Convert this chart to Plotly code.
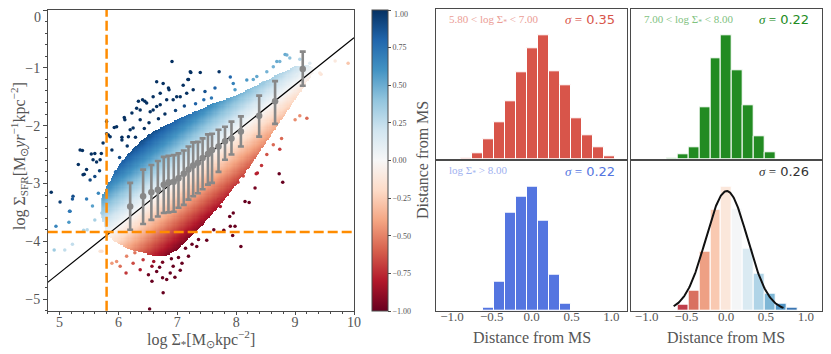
import numpy as np
import plotly.graph_objects as go

W, H = 831, 354          # browser window
OFF = 8                  # default page margin around the plot div
FW, FH = W - OFF, H - OFF
SERIF = "Liberation Serif"
SANS = "DejaVu Sans"
GREY = "#555555"
FRAME = "#4a4a4a"


def px_x(px):
    return (px - OFF) / FW


def px_y(py):
    return 1 - (py - OFF) / FH


# matplotlib RdBu, -1 (red) ... +1 (blue)
RDBU = ["#67001f", "#b2182b", "#d6604d", "#f4a582", "#fddbc7", "#f7f7f7",
        "#d1e5f0", "#92c5de", "#4393c3", "#2166ac", "#053061"]
RDBU_SCALE = [[i / 10, c] for i, c in enumerate(RDBU)]

# ---------------- left panel data ----------------
ms_x = [4.8, 10.0]          # main-sequence fit, end points
ms_y = [-4.71, -0.48]
mstar_cut = 5.80
sfr_cut = -3.84

# running median with 16/84 percentile bars
med_x = [6.20, 6.42, 6.56, 6.67, 6.77, 6.85, 6.94, 7.02, 7.11, 7.19, 7.27,
         7.35, 7.43, 7.52, 7.59, 7.70, 7.81, 7.92, 8.08, 8.39, 8.66, 9.13]
med_y = [-3.40, -3.22, -3.15, -3.11, -3.02, -2.98, -2.97, -2.91, -2.83, -2.76, -2.69,
         -2.64, -2.56, -2.49, -2.42, -2.36, -2.27, -2.22, -2.10, -1.83, -1.58, -1.02]
med_hi = [-2.99, -2.76, -2.68, -2.61, -2.54, -2.52, -2.51, -2.48, -2.43, -2.36, -2.29,
          -2.28, -2.22, -2.15, -2.14, -2.07, -2.02, -1.93, -1.84, -1.48, -1.23, -0.72]
med_lo = [-3.80, -3.70, -3.63, -3.57, -3.51, -3.50, -3.49, -3.42, -3.37, -3.28, -3.22,
          -3.17, -3.10, -3.02, -2.99, -2.80, -2.59, -2.50, -2.36, -2.19, -1.97, -1.31]

# envelope of the densely populated part of the cloud
core_x = [5.72, 5.80, 6.00, 6.20, 6.40, 6.60, 6.80, 7.00, 7.20, 7.40, 7.60,
          7.80, 8.00, 8.20, 8.40, 8.60, 8.80, 9.00, 9.20, 9.30]
core_top = [-3.25, -3.05, -2.70, -2.45, -2.25, -2.10, -2.00, -1.90, -1.80, -1.72, -1.62,
            -1.55, -1.48, -1.38, -1.28, -1.17, -1.07, -0.98, -0.95, -1.00]
core_bot = [-3.60, -3.90, -4.05, -4.15, -4.20, -4.25, -4.25, -4.15, -3.95, -3.75, -3.52,
            -3.28, -3.02, -2.75, -2.45, -2.15, -1.85, -1.55, -1.25, -1.10]

# sparse spaxels outside the dense cloud
pts_x = [4.86, 5.01, 4.94, 4.91, 5.17, 5.16, 5.22, 5.32, 5.39, 5.42, 5.46, 5.47, 5.22,
         5.52, 5.54, 5.60, 5.63, 5.68, 5.71, 5.56, 5.66, 5.72, 5.60, 5.69, 5.41, 5.80,
         6.91, 6.41, 6.65, 6.76, 6.85, 7.22, 7.39, 7.71, 7.90, 7.18, 6.10, 5.93, 5.83,
         7.23, 7.10, 7.19, 6.86, 6.71, 6.59, 6.45, 6.31, 6.25, 6.17, 6.06, 6.54, 6.65,
         6.93, 7.05, 7.27, 6.37, 7.47, 7.64, 7.95, 8.18, 8.35, 8.52, 8.69, 8.83, 8.91,
         9.08, 9.25, 9.68, 9.90, 9.44, 9.03, 7.98, 8.29, 8.46, 8.63, 8.74, 8.86, 9.42,
         9.20, 9.08, 9.00, 8.77, 8.74, 8.63, 8.43, 8.34, 8.73, 8.79, 8.12, 8.52, 8.26,
         8.32, 8.36, 8.15, 8.22, 8.08, 7.94, 7.98, 7.90, 7.89, 7.79, 7.62, 7.73, 7.70,
         7.95, 8.03, 7.50, 7.36, 7.27, 7.33, 6.53, 6.57, 6.76, 6.75, 6.96, 6.13, 5.97,
         6.42, 6.57, 6.28, 7.05, 6.88, 6.70, 5.09, 5.72,
         6.34, 6.48, 6.23, 6.37, 6.11, 5.97, 5.86, 5.74, 5.60, 5.57, 5.46, 5.40, 5.23,
         5.18, 5.35, 5.80, 5.69, 5.89, 6.06, 6.20, 6.59, 6.71, 6.82, 6.99, 7.16,
         6.25, 6.37, 6.51, 6.65, 6.82, 6.93, 7.08, 7.19, 6.14, 6.03, 5.89,
         6.02, 6.15, 6.29, 6.44, 6.52, 6.68, 6.79, 6.97, 7.12, 7.31, 7.45, 7.58, 5.95, 6.08,
         6.60, 6.75, 6.90, 7.02, 7.14, 7.25]
pts_y = [-3.15, -3.32, -3.74, -4.15, -3.48, -3.67, -3.27, -2.67, -2.43, -2.84, -3.27, -3.80, -4.05,
         -2.94, -2.49, -2.88, -2.63, -2.78, -2.48, -3.39, -3.17, -3.51, -3.63, -4.17, -3.81, -2.14,
         -0.89, -1.55, -1.24, -1.27, -1.35, -1.07, -1.08, -1.07, -1.16, -1.20, -1.86, -2.03, -2.16,
         -1.08, -1.30, -1.20, -1.38, -1.44, -1.50, -1.58, -1.70, -2.04, -2.19, -2.20, -1.76, -1.67,
         -1.55, -1.50, -1.38, -1.90, -1.41, -1.35, -1.27, -1.21, -1.15, -1.07, -0.89, -0.77, -0.83,
         -0.85, -0.92, -0.88, -0.92, -1.11, -1.12, -1.38, -1.20, -1.26, -0.98, -0.89, -0.78, -1.09,
         -1.87, -1.83, -1.90, -2.22, -2.41, -2.33, -2.69, -2.83, -2.83, -2.98, -2.87, -2.50, -2.62,
         -3.08, -2.82, -3.31, -3.33, -4.09, -3.90, -3.74, -3.74, -3.57, -3.81, -3.80, -3.40, -3.28,
         -3.51, -2.98, -3.98, -3.97, -3.83, -4.09, -5.17, -4.69, -4.89, -4.63, -4.62, -4.55, -4.35,
         -4.32, -4.43, -4.20, -4.50, -4.55, -4.45, -4.15, -4.17,
         -1.58, -1.61, -1.78, -1.73, -1.90, -2.02, -2.19, -2.30, -2.48, -2.59, -2.76, -2.85, -3.22,
         -3.48, -2.42, -1.93, -2.59, -2.42, -2.25, -2.07, -1.73, -1.64, -1.55, -1.50, -1.44,
         -4.38, -4.49, -4.58, -4.52, -4.66, -4.43, -4.38, -4.26, -4.26, -4.43, -4.38,
         -2.55, -2.35, -2.20, -2.05, -1.95, -1.88, -1.80, -1.74, -1.66, -1.62, -1.55, -1.52, -2.80, -2.62,
         -4.35, -4.36, -4.30, -4.28, -4.12, -4.05]

# ---------------- histogram data ----------------
bin_centers = [-0.822, -0.684, -0.546, -0.408, -0.270, -0.132, 0.006,
               0.144, 0.282, 0.420, 0.558, 0.696, 0.834, 0.972]
bin_width = 0.138
counts_low = [4, 18, 61, 112, 174, 262, 332, 371, 264, 221, 124, 72, 36, 10]
counts_mid = [0, 2, 16, 36, 156, 303, 371, 266, 162, 68, 22, 0, 0, 0]
counts_high = [0, 0, 8, 86, 295, 342, 372, 269, 107, 21, 0, 0, 0, 0]
counts_all = [0, 0, 19, 59, 177, 302, 372, 307, 187, 110, 52, 22, 8, 0]
sigmas = [0.35, 0.22, 0.22, 0.26]
gauss_mu, gauss_amp, gauss_span = 0.006, 359, [-0.66, 0.72]

slope = (ms_y[1] - ms_y[0]) / (ms_x[1] - ms_x[0])
icpt = ms_y[0] - slope * ms_x[0]
norm = np.sqrt(1 + slope ** 2)   # perpendicular distance to the MS line


def ms_dist(x, y):
    return (np.asarray(y) - (slope * np.asarray(x) + icpt)) / norm


fig = go.Figure()

# dense cloud, coloured by distance from the MS
gx = np.arange(core_x[0], core_x[-1] + 1e-9, 0.02)
gy = np.arange(-4.50, -0.80, 0.02)
X, Y = np.meshgrid(gx, gy)
top = np.interp(X, core_x, core_top)
bot = np.interp(X, core_x, core_bot)
Z = np.where((Y <= top) & (Y >= bot), ms_dist(X, Y), np.nan)

# the top-most labels would be clipped by the page edge, they are added as annotations below
cb_ticks = [-1, -0.75, -0.5, -0.25, 0, 0.25, 0.5, 0.75, 1]
cb_text = [f"{v:.2f}".replace("-", "−") for v in cb_ticks]
fig.add_trace(go.Heatmap(
    x=gx, y=gy, z=Z, colorscale=RDBU_SCALE, zmin=-1, zmax=1, hoverinfo="skip",
    xaxis="x", yaxis="y",
    colorbar=dict(
        x=px_x(372), xanchor="left", xpad=0, y=px_y(160.5), yanchor="middle", ypad=0,
        len=301 / FH, thickness=16, outlinecolor=FRAME, outlinewidth=1,
        tickvals=cb_ticks, ticktext=cb_text[:-1] + [""],
        ticks="outside", ticklen=3, tickcolor=FRAME,
        tickfont=dict(family=SERIF, size=8, color=GREY),
    ),
))

fig.add_trace(go.Scatter(
    x=pts_x, y=pts_y, mode="markers", xaxis="x", yaxis="y", hoverinfo="skip",
    marker=dict(size=3.5, color=np.clip(ms_dist(pts_x, pts_y), -1, 1),
                colorscale=RDBU_SCALE, cmin=-1, cmax=1, showscale=False),
))

fig.add_trace(go.Scatter(x=ms_x, y=ms_y, mode="lines", xaxis="x", yaxis="y",
                         line=dict(color="black", width=1.2)))

fig.add_trace(go.Scatter(
    x=med_x, y=med_y, mode="markers", xaxis="x", yaxis="y",
    marker=dict(size=6.5, color="#888888"),
    error_y=dict(type="data", symmetric=False,
                 array=[h - m for h, m in zip(med_hi, med_y)],
                 arrayminus=[m - l for m, l in zip(med_y, med_lo)],
                 color="#888888", thickness=2.6, width=3),
))

orange = dict(color="#ff8c00", width=2.5, dash="10px,4px")
fig.add_shape(type="line", xref="x", yref="y domain", x0=mstar_cut, x1=mstar_cut,
              y0=0, y1=1, line=orange)
fig.add_shape(type="line", xref="x domain", yref="y", x0=0, x1=1,
              y0=sfr_cut, y1=sfr_cut, line=orange)

# ---------------- histograms ----------------
panels = [("x2", "y2", counts_low, "#d8554a", "5.80 &lt; log Σ<sub>*</sub> &lt; 7.00"),
          ("x3", "y3", counts_mid, "#228b22", "7.00 &lt; log Σ<sub>*</sub> &lt; 8.00"),
          ("x4", "y4", counts_high, "#5475e0", "log Σ<sub>*</sub> &gt; 8.00"),
          ("x5", "y5", counts_all, None, None)]
label_cols = ["#eb9d95", "#7fc27f", "#9fb2f0", None]
sig_cols = ["#d8554a", "#228b22", "#5475e0", "#333333"]

for (xa, ya, cnt, col, lab), lcol, scol, sg in zip(panels, label_cols, sig_cols, sigmas):
    if col is None:
        mcol = dict(color=bin_centers, colorscale=RDBU_SCALE, cmin=-0.75, cmax=1.0,
                    opacity=0.88, line=dict(color="white", width=1))
    else:
        mcol = dict(color=col, line=dict(color="white", width=1))
    fig.add_trace(go.Bar(x=bin_centers, y=cnt, width=bin_width, xaxis=xa, yaxis=ya,
                         marker=mcol, hoverinfo="skip"))
    fig.add_annotation(
        xref=f"{xa} domain", yref=f"{ya} domain", x=0.945, y=0.93,
        xanchor="right", yanchor="middle", showarrow=False,
        text=f'<span style="font-family:{SERIF}"><i>σ</i> =</span> {sg:.2f}',
        font=dict(family=SANS, size=13, color=scol))
    if lab:
        fig.add_annotation(
            xref=f"{xa} domain", yref=f"{ya} domain", x=0.06, y=0.93,
            xanchor="left", yanchor="middle", showarrow=False, text=lab,
            font=dict(family=SERIF, size=11, color=lcol))

gx5 = np.linspace(gauss_span[0], gauss_span[1], 200)
fig.add_trace(go.Scatter(
    x=gx5, y=gauss_amp * np.exp(-0.5 * ((gx5 - gauss_mu) / sigmas[3]) ** 2),
    mode="lines", xaxis="x5", yaxis="y5", line=dict(color="#111111", width=2)))

# ---------------- axis titles (placed by hand) ----------------
title_font = dict(family=SERIF, size=16, color=GREY)
titles = [
    (201, 339, 0, "log Σ<sub>*</sub>[M<sub>⊙</sub>kpc<sup>−2</sup>]"),
    (19, 156, -90, "log Σ<sub>SFR</sub>[M<sub>⊙</sub><i>yr</i><sup>−1</sup>kpc<sup>−2</sup>]"),
    (422, 160, -90, "Distance from MS"),
    (531.7, 337, 0, "Distance from MS"),
    (726.2, 337, 0, "Distance from MS"),
]
for px, py, ang, txt in titles:
    fig.add_annotation(xref="paper", yref="paper", x=px_x(px), y=px_y(py),
                       xanchor="center", yanchor="middle", textangle=ang,
                       showarrow=False, text=txt, font=title_font)

# top tick labels kept just inside the page
fig.add_annotation(xref="paper", yref="paper", x=px_x(42.5), y=1, xanchor="right",
                   yanchor="top", showarrow=False, text="0",
                   font=dict(family=SERIF, size=14, color=GREY))
fig.add_annotation(xref="paper", yref="paper", x=px_x(391.5), y=1, xanchor="left",
                   yanchor="top", showarrow=False, text=cb_text[-1],
                   font=dict(family=SERIF, size=8, color=GREY))

# ---------------- layout ----------------
def frame_axis(**kw):
    base = dict(showline=True, linecolor=FRAME, linewidth=1.3, mirror=True,
                showgrid=False, zeroline=False, automargin=False,
                ticklabeloverflow="allow")
    base.update(kw)
    return base


LX = [px_x(47.7), px_x(354)]
LY = [px_y(310.7), px_y(10)]
C1 = [px_x(436), px_x(627.3)]
C2 = [px_x(630.7), px_x(821.7)]
R1 = [px_y(159.3), px_y(9.3)]
R2 = [px_y(310.7), px_y(160.7)]

tickfont = dict(family=SERIF, size=14, color=GREY)
hist_ticks = dict(tickvals=[-1, -0.5, 0, 0.5, 1],
                  ticktext=["−1.0", "−0.5", "0.0", "0.5", "1.0"],
                  tickfont=dict(family=SERIF, size=13, color=GREY),
                  ticklabelstandoff=-6)
minor = dict(dtick=0.2, ticks="outside", ticklen=2, tickcolor=FRAME)

fig.update_layout(
    width=FW, height=FH, margin=dict(l=0, r=0, t=0, b=0, autoexpand=False),
    paper_bgcolor="white", plot_bgcolor="white", showlegend=False,
    xaxis=frame_axis(domain=LX, anchor="y", range=[4.8, 10], tickvals=[5, 6, 7, 8, 9, 10],
                     ticks="outside", ticklen=3.5, tickcolor=FRAME, tickfont=tickfont,
                     ticklabelstandoff=-5, minor=minor),
    yaxis=frame_axis(domain=LY, anchor="x", range=[-5.2, 0], tickvals=[0, -1, -2, -3, -4, -5],
                     ticktext=["", "−1", "−2", "−3", "−4", "−5"],
                     ticks="outside", ticklen=3.5, tickcolor=FRAME, tickfont=tickfont,
                     minor=minor),
    xaxis2=frame_axis(domain=C1, anchor="y2", range=[-1.2, 1.2], showticklabels=False),
    yaxis2=frame_axis(domain=R1, anchor="x2", range=[0, 450], showticklabels=False),
    xaxis3=frame_axis(domain=C2, anchor="y3", range=[-1.2, 1.2], showticklabels=False),
    yaxis3=frame_axis(domain=R1, anchor="x3", range=[0, 450], showticklabels=False),
    xaxis4=frame_axis(domain=C1, anchor="y4", range=[-1.2, 1.2], **hist_ticks),
    yaxis4=frame_axis(domain=R2, anchor="x4", range=[0, 450], showticklabels=False),
    xaxis5=frame_axis(domain=C2, anchor="y5", range=[-1.2, 1.2], **hist_ticks),
    yaxis5=frame_axis(domain=R2, anchor="x5", range=[0, 450], showticklabels=False),
    bargap=0,
)

fig.write_html("out.html")
